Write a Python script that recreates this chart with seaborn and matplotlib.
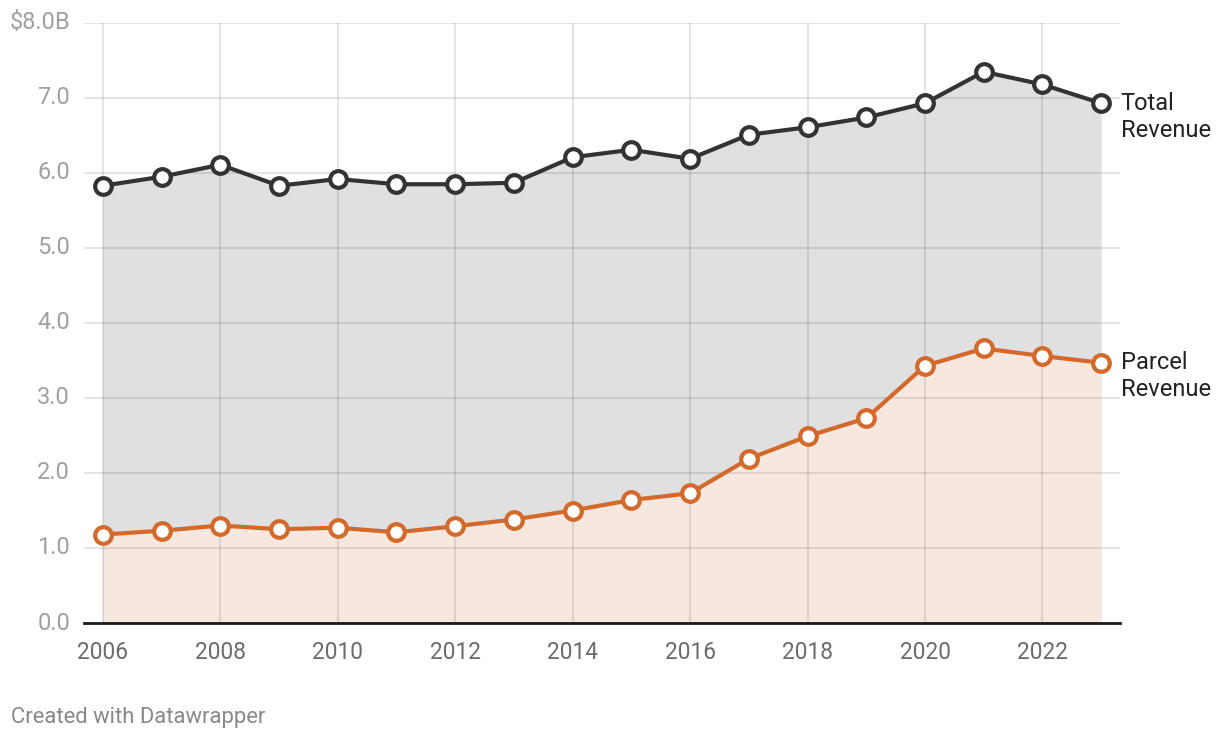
import matplotlib
matplotlib.use("Agg")
import matplotlib.pyplot as plt
import seaborn as sns
import pandas as pd

years = list(range(2006, 2024))
total_revenue = [5.83, 5.95, 6.11, 5.83, 5.92, 5.85, 5.85, 5.87, 6.21, 6.31,
                 6.19, 6.51, 6.61, 6.74, 6.93, 7.35, 7.18, 6.93]
parcel_revenue = [1.18, 1.23, 1.30, 1.25, 1.27, 1.21, 1.29, 1.38, 1.50, 1.64,
                  1.73, 2.19, 2.49, 2.73, 3.43, 3.66, 3.56, 3.47]
y_ticks = [0, 1, 2, 3, 4, 5, 6, 7, 8]
y_tick_labels = ["0.0", "1.0", "2.0", "3.0", "4.0", "5.0", "6.0", "7.0", "$8.0B"]
x_ticks = list(range(2006, 2024, 2))

df = pd.DataFrame({"year": years, "Total": total_revenue, "Parcel": parcel_revenue})

sns.set_theme(style="white")
plt.rcParams["font.family"] = ["Roboto", "DejaVu Sans"]

fig = plt.figure(figsize=(12.2, 7.4), dpi=100)
ax = fig.add_axes([84 / 1220, 1 - 623 / 740, (1120 - 84) / 1220, 600 / 740])

total_c = "#333333"
parcel_c = "#d3692b"

ax.fill_between(df["year"], df["Total"], color="#e0e0e0", lw=0, zorder=1)
ax.fill_between(df["year"], df["Parcel"], color="#f6e8de", lw=0, zorder=1.5)

for s, c in [("Total", total_c), ("Parcel", parcel_c)]:
    sns.lineplot(data=df, x="year", y=s, ax=ax, color=c, lw=3, marker="o",
                 markersize=12, markerfacecolor="white", markeredgecolor=c,
                 markeredgewidth=3, zorder=5, clip_on=False)

ax.set_xlim(2005.68, 2023.32)
ax.set_ylim(0, 8)
ax.set_yticks(y_ticks)
ax.set_yticklabels(y_tick_labels)
ax.set_xticks(x_ticks)
ax.set_xticklabels([str(x) for x in x_ticks])
ax.set_xlabel("")
ax.set_ylabel("")

ax.set_axisbelow(False)
ax.grid(True)
for gl in ax.get_xgridlines() + ax.get_ygridlines():
    gl.set_color("black")
    gl.set_alpha(0.1)
    gl.set_linewidth(1.5)
    gl.set_zorder(2)

for sp in ["top", "right", "left"]:
    ax.spines[sp].set_visible(False)
ax.spines["bottom"].set_color("#1a1a1a")
ax.spines["bottom"].set_linewidth(2)
ax.spines["bottom"].set_zorder(6)

ax.tick_params(axis="y", length=0, pad=10, labelsize=17, labelcolor="#a0a0a0")
ax.tick_params(axis="x", length=0, pad=13, labelsize=16.3, labelcolor="#6b6b6b")
for lab in ax.get_yticklabels():
    lab.set_verticalalignment("center")

ax.text(2023.33, total_revenue[-1] - 0.18, "Total\nRevenue", fontsize=17,
        color="#222222", va="center", ha="left", linespacing=1.2)
ax.text(2023.33, parcel_revenue[-1] - 0.18, "Parcel\nRevenue", fontsize=17,
        color="#222222", va="center", ha="left", linespacing=1.2)

fig.text(11 / 1220, 1 - 717 / 740, "Created with Datawrapper", fontsize=15.8,
         color="#888888", va="center", ha="left")

fig.savefig("out.png", dpi=100, facecolor="white")
